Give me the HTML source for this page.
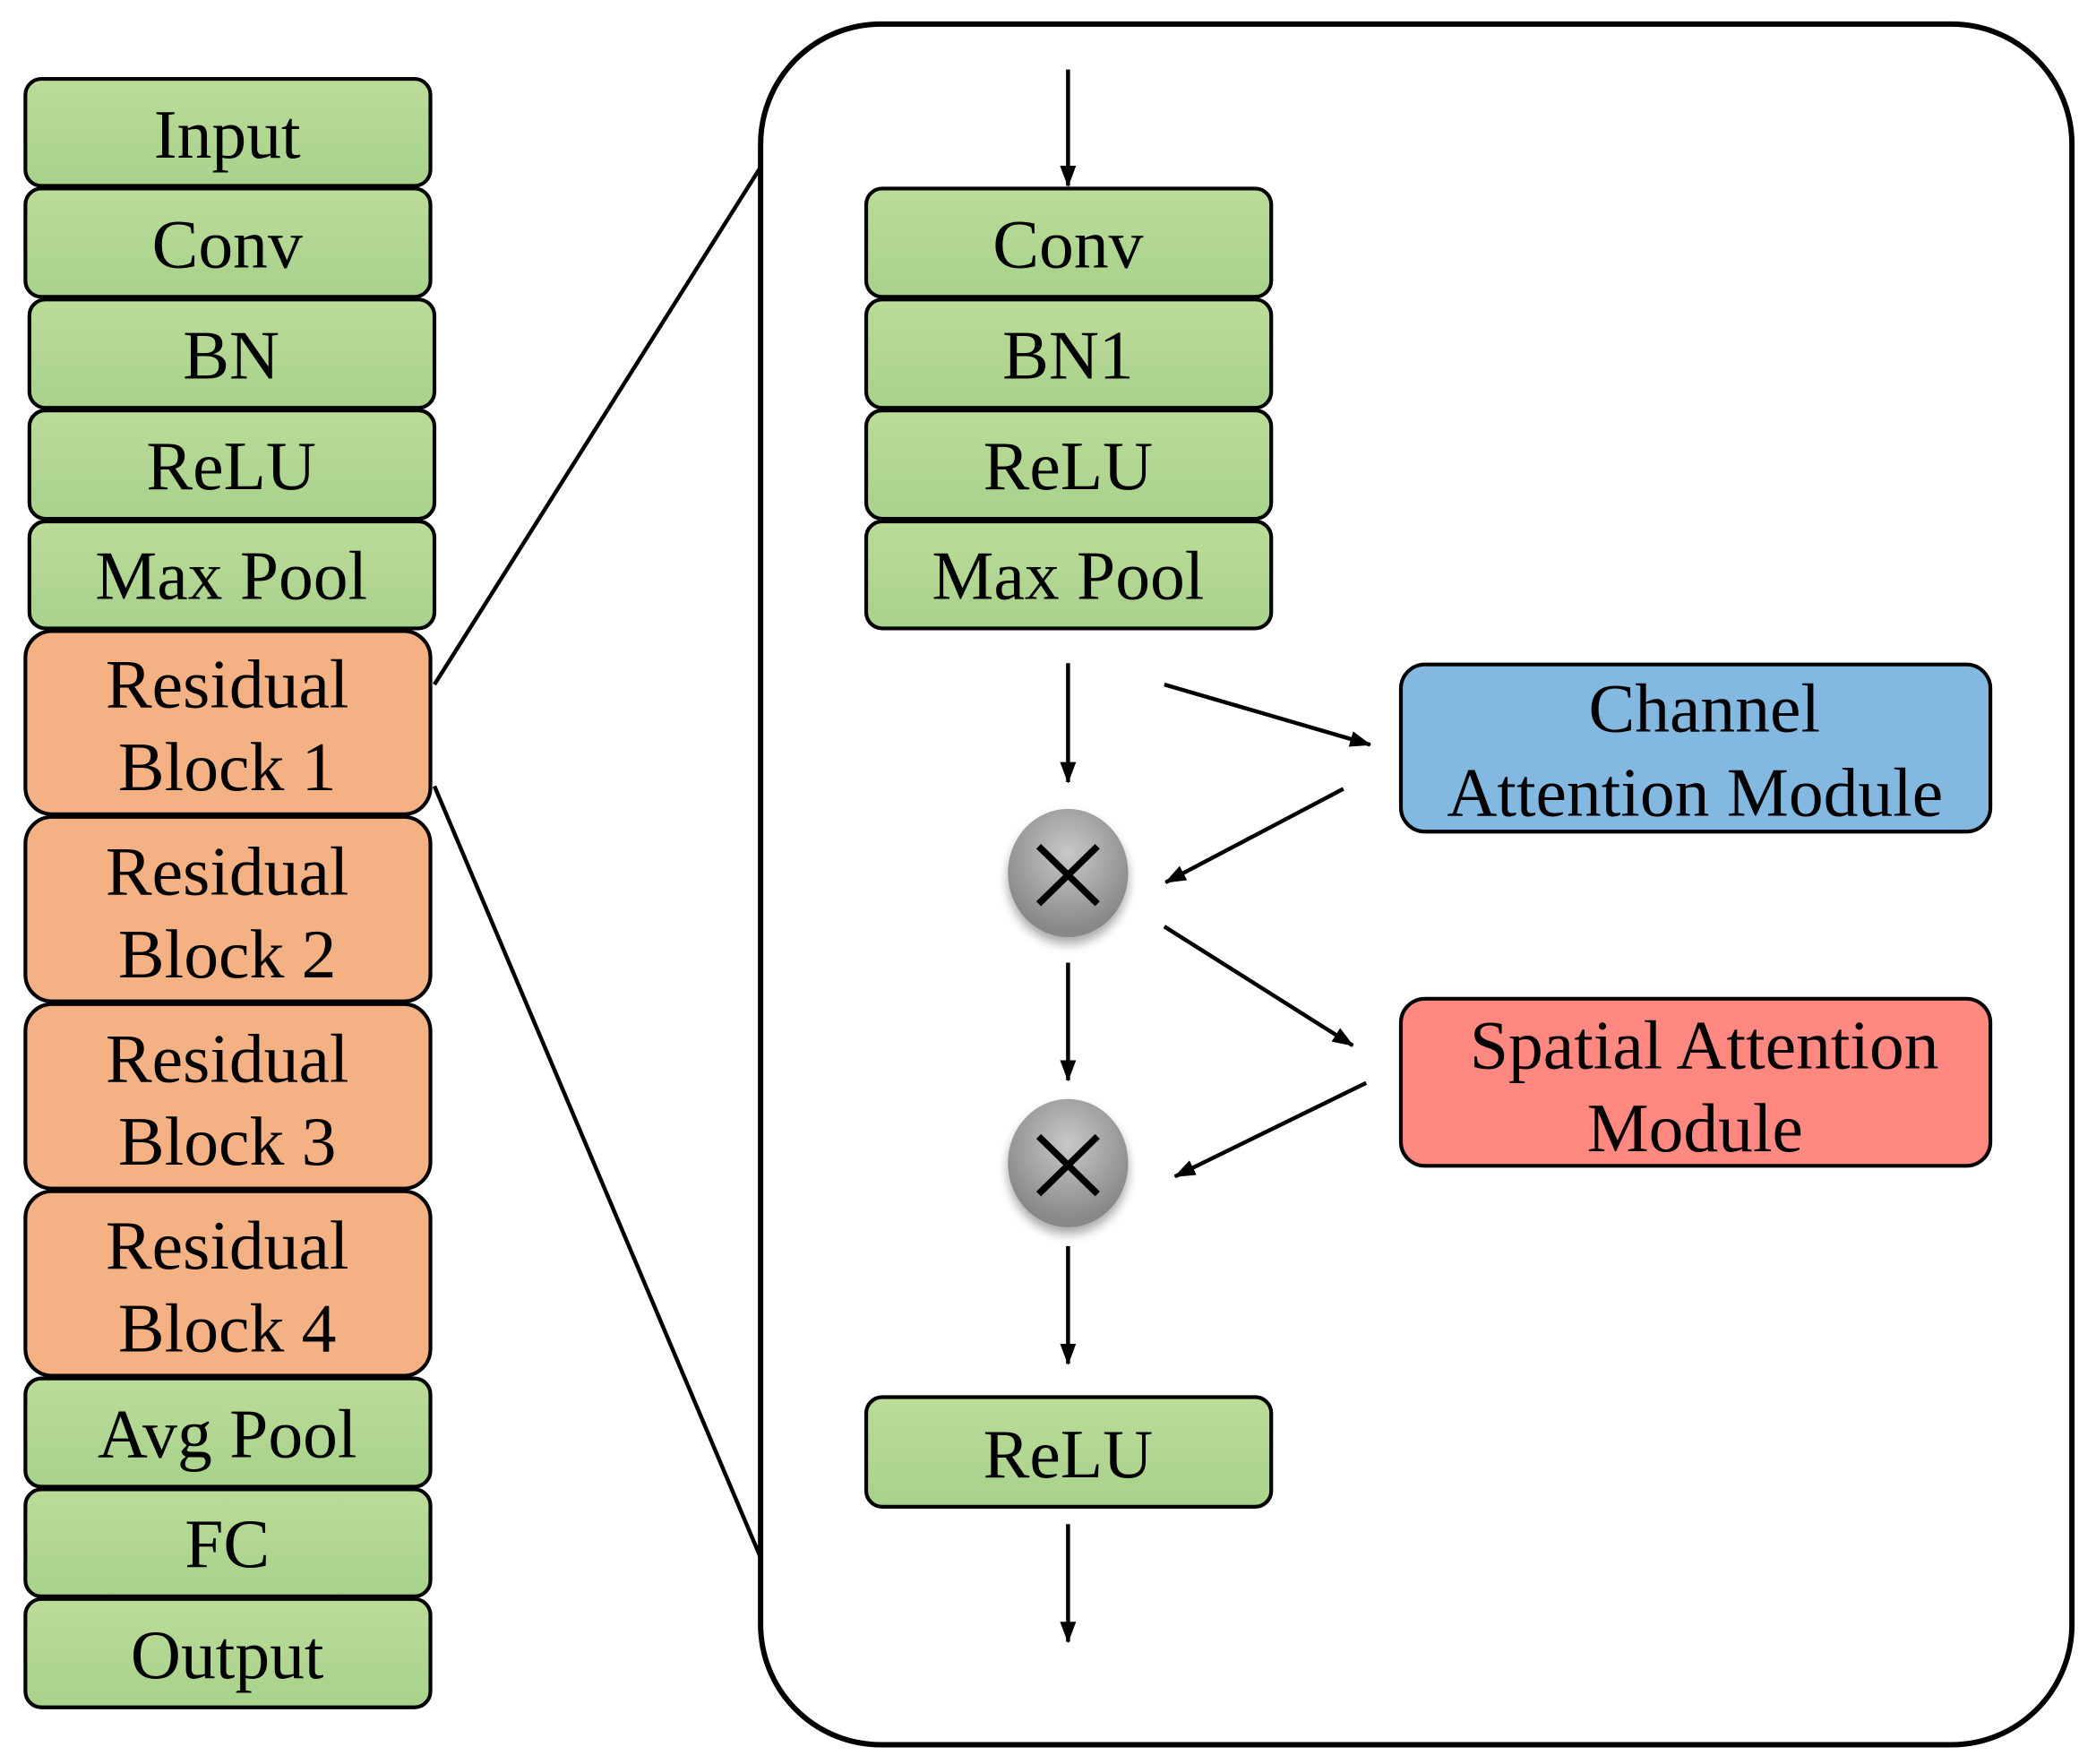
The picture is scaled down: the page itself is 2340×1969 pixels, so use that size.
<!DOCTYPE html>
<html><head><meta charset="utf-8"><style>
html,body{margin:0;padding:0;background:#fff;}
svg{display:block;}
text{font-family:"Liberation Serif",serif;font-size:52px;fill:#000;text-anchor:middle;}
</style></head><body>
<svg width="2340" height="1969" viewBox="0 0 1568 1319.4" xmlns="http://www.w3.org/2000/svg">
<defs>
<linearGradient id="g" x1="0" y1="0" x2="0" y2="1"><stop offset="0" stop-color="#bbdc98"/><stop offset="1" stop-color="#a8d28c"/></linearGradient>
<radialGradient id="c" cx="0.5" cy="0.35" r="0.6"><stop offset="0" stop-color="#c8c8c8"/><stop offset="1" stop-color="#888"/></radialGradient>
<marker id="a" markerWidth="16" markerHeight="12" refX="15" refY="6" orient="auto" markerUnits="userSpaceOnUse" viewBox="0 0 16 12"><path d="M0,0 L16,6 L0,12 z" fill="#000"/></marker>
<filter id="sh" x="-30%" y="-30%" width="160%" height="160%"><feGaussianBlur in="SourceAlpha" stdDeviation="4"/><feOffset dy="5"/><feComponentTransfer><feFuncA type="linear" slope="0.35"/></feComponentTransfer><feMerge><feMergeNode/><feMergeNode in="SourceGraphic"/></feMerge></filter>
</defs>
<g stroke="#000" stroke-width="2.8">
<rect x="19" y="59" width="303" height="80" rx="12" fill="url(#g)"/>
<rect x="19" y="141" width="303" height="81" rx="12" fill="url(#g)"/>
<rect x="22" y="224" width="303" height="81" rx="12" fill="url(#g)"/>
<rect x="22" y="307" width="303" height="81" rx="12" fill="url(#g)"/>
<rect x="22" y="390" width="303" height="80" rx="12" fill="url(#g)"/>
<rect x="19" y="472" width="303" height="137" rx="20" fill="#f4b183"/>
<rect x="19" y="611" width="303" height="138" rx="20" fill="#f4b183"/>
<rect x="19" y="751" width="303" height="138" rx="20" fill="#f4b183"/>
<rect x="19" y="891" width="303" height="138" rx="20" fill="#f4b183"/>
<rect x="19" y="1031" width="303" height="81" rx="12" fill="url(#g)"/>
<rect x="19" y="1114" width="303" height="80" rx="12" fill="url(#g)"/>
<rect x="19" y="1196" width="303" height="81" rx="12" fill="url(#g)"/>
<rect x="648" y="141" width="303" height="81" rx="12" fill="url(#g)"/>
<rect x="648" y="224" width="303" height="81" rx="12" fill="url(#g)"/>
<rect x="648" y="307" width="303" height="81" rx="12" fill="url(#g)"/>
<rect x="648" y="390" width="303" height="80" rx="12" fill="url(#g)"/>
<rect x="648" y="1045" width="303" height="82" rx="12" fill="url(#g)"/>
<rect x="1048" y="497" width="441" height="125" rx="18" fill="#83b9e0"/>
<rect x="1048" y="747" width="441" height="125" rx="18" fill="#ff8880"/>
</g>
<rect x="569" y="18" width="981" height="1287" rx="90" fill="none" stroke="#000" stroke-width="4"/>
<g stroke="#000" stroke-width="3" fill="none">
<line x1="325" y1="512" x2="569" y2="125"/>
<line x1="325" y1="588" x2="569" y2="1165"/>
</g>
<g stroke="#000" stroke-width="3" marker-end="url(#a)">
<line x1="799" y1="52" x2="799" y2="139"/>
<line x1="799" y1="496" x2="799" y2="585"/>
<line x1="799" y1="720" x2="799" y2="808"/>
<line x1="799" y1="932" x2="799" y2="1020"/>
<line x1="799" y1="1140" x2="799" y2="1228"/>
<line x1="871" y1="512" x2="1025" y2="557"/>
<line x1="1005" y1="590" x2="872" y2="660"/>
<line x1="871" y1="693" x2="1012" y2="782"/>
<line x1="1022" y1="810" x2="879" y2="880"/>
</g>
<g filter="url(#sh)">
<ellipse cx="799" cy="653" rx="45" ry="48" fill="url(#c)"/>
<ellipse cx="799" cy="870" rx="45" ry="48" fill="url(#c)"/>
</g>
<g stroke="#000" stroke-width="5">
<line x1="777" y1="633" x2="821" y2="676"/><line x1="821" y1="633" x2="777" y2="676"/>
<line x1="777" y1="850" x2="821" y2="893"/><line x1="821" y1="850" x2="777" y2="893"/>
</g>
<text x="170" y="118">Input</text>
<text x="170" y="200">Conv</text>
<text x="173" y="283">BN</text>
<text x="173" y="366">ReLU</text>
<text x="173" y="448">Max Pool</text>
<text x="170" y="529">Residual</text><text x="170" y="591">Block 1</text>
<text x="170" y="669">Residual</text><text x="170" y="731">Block 2</text>
<text x="170" y="809">Residual</text><text x="170" y="871">Block 3</text>
<text x="170" y="949">Residual</text><text x="170" y="1011">Block 4</text>
<text x="170" y="1090">Avg Pool</text>
<text x="170" y="1172">FC</text>
<text x="170" y="1255">Output</text>
<text x="799" y="200">Conv</text>
<text x="799" y="283">BN1</text>
<text x="799" y="366">ReLU</text>
<text x="799" y="448">Max Pool</text>
<text x="799" y="1105">ReLU</text>
<text x="1275" y="547">Channel</text>
<text x="1268" y="610">Attention Module</text>
<text x="1275" y="799">Spatial Attention</text>
<text x="1268" y="861">Module</text>
</svg>
</body></html>
